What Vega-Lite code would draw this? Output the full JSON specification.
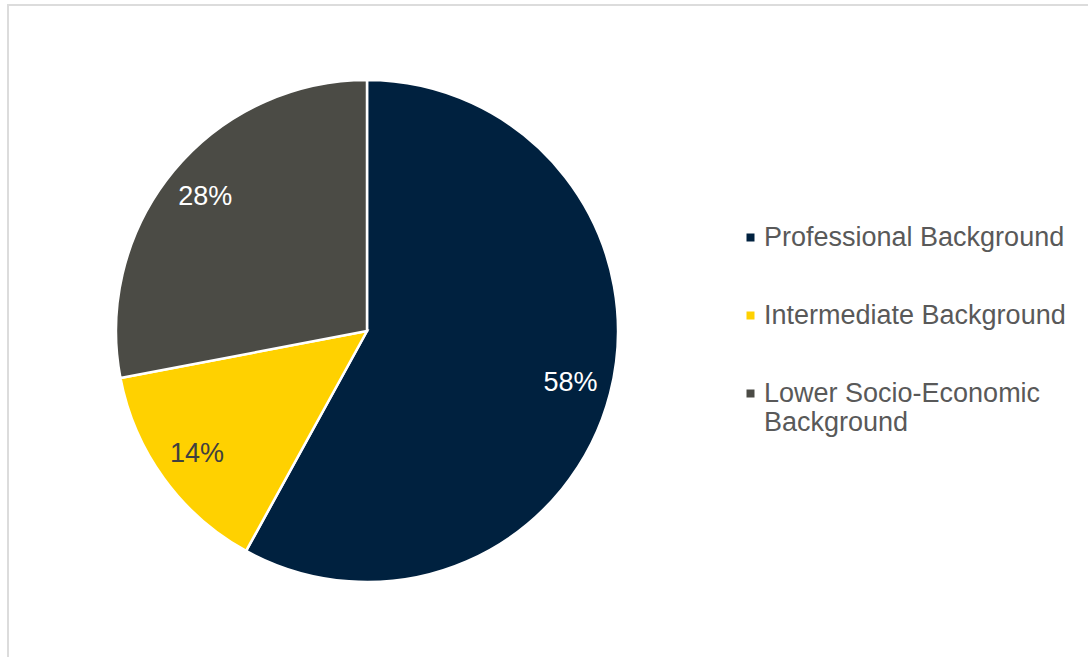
{
  "$schema": "https://vega.github.io/schema/vega-lite/v6.json",
  "autosize": {"type": "none"},
  "width": 1090,
  "height": 662,
  "padding": {"left": 8, "top": 5, "right": 0, "bottom": 0},
  "background": "#ffffff",
  "view": {"stroke": "#dcdcdc", "strokeWidth": 2},
  "config": {
    "view": {"stroke": "#dcdcdc", "strokeWidth": 2},
    "font": "Liberation Sans"
  },
  "data": {
    "values": [
      {"category": "Professional Background", "value": 0.58, "rank": 1},
      {"category": "Intermediate Background", "value": 0.14, "rank": 2},
      {"category": "Lower Socio-Economic Background", "value": 0.28, "rank": 3}
    ]
  },
  "encoding": {
    "theta": {"field": "value", "type": "quantitative", "stack": true},
    "order": {"field": "rank", "type": "ordinal"}
  },
  "layer": [
    {
      "mark": {"type": "arc", "outerRadius": 251, "x": 359, "y": 326, "stroke": "#ffffff", "strokeWidth": 2.5},
      "encoding": {
        "color": {
          "field": "category",
          "type": "nominal",
          "scale": {
            "domain": ["Professional Background", "Intermediate Background", "Lower Socio-Economic Background"],
            "range": ["#00213f", "#ffd100", "#4b4b45"]
          },
          "legend": {
            "orient": "none",
            "legendX": 729,
            "legendY": 219,
            "title": null,
            "padding": 0,
            "symbolType": "square",
            "symbolSize": 64,
            "symbolStrokeWidth": 0,
            "labelFontSize": 27,
            "labelFont": "Liberation Sans",
            "labelColor": "#595959",
            "labelOffset": 0,
            "labelLimit": 400,
            "rowPadding": 50,
            "labelExpr": "datum.label == 'Lower Socio-Economic Background' ? ['Lower Socio-Economic', 'Background'] : datum.label",
            "encode": {"labels": {"update": {"lineHeight": {"value": 31}}}}
          }
        }
      }
    },
    {
      "mark": {"type": "text", "radius": 210, "x": 359, "y": 326, "fontSize": 27, "font": "Liberation Sans"},
      "encoding": {
        "text": {"field": "value", "type": "quantitative", "format": ".0%"},
        "color": {
          "condition": {"test": "datum.category === 'Intermediate Background'", "value": "#404040"},
          "value": "#ffffff"
        }
      }
    }
  ]
}
